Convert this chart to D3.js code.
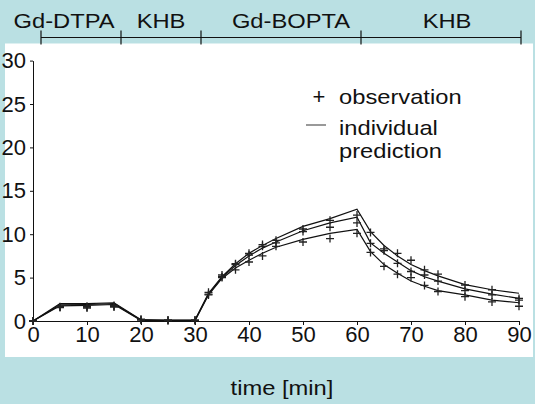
<!DOCTYPE html>
<html>
<head>
<meta charset="utf-8">
<script src="https://cdn.jsdelivr.net/npm/d3@7"></script>
<style>
  html, body { margin: 0; padding: 0; background: #bae0e3; }
  svg { display: block; }
  text { font-family: "Liberation Sans", Arial, Helvetica, sans-serif; fill: #111; }
</style>
</head>
<body>
<svg id="chart" width="535" height="404"></svg>
<script>
// Sampling times (min)
const times = [0, 5, 10, 15, 20, 25, 30, 32.5, 35, 37.5, 40, 42.5, 45, 50, 55, 60,
               62.5, 65, 67.5, 70, 72.5, 75, 80, 85, 90];

// Observed concentrations for three experiments
const obsA = [0, 1.65, 1.7, 1.8, 0.15, 0.1, 0.1, 3.3, 5.3, 6.6, 7.8, 8.8, 9.3, 10.6, 11.6, 12.2,
              10.2, 8.3, 7.8, 7.0, 5.9, 5.4, 4.15, 3.6, 2.6];
const obsB = [0, 1.55, 1.6, 1.7, 0.2, 0.1, 0.1, 3.1, 5.1, 6.5, 7.6, 8.6, 9.0, 10.3, 10.8, 11.3,
              8.95, 8.1, 6.65, 5.7, 5.3, 4.6, 3.5, 3.0, 2.4];
const obsC = [0, 1.6, 1.5, 1.6, 0.1, 0.05, 0.05, 3.0, 5.0, 5.9, 6.8, 7.5, 8.6, 9.1, 9.5, 10.1,
              7.9, 6.3, 5.4, 5.0, 4.1, 3.4, 2.8, 2.2, 1.7];

// Individual model predictions at the same times
const predA = [0, 2.0, 2.0, 2.1, 0.15, 0.1, 0.1, 3.2, 5.1, 6.6, 7.8, 8.7, 9.5, 10.9, 11.8, 12.87,
               10.3, 8.7, 7.5, 6.5, 5.8, 5.2, 4.2, 3.6, 3.2];
const predB = [0, 1.85, 1.9, 2.0, 0.1, 0.08, 0.08, 3.1, 5.0, 6.4, 7.5, 8.4, 9.1, 10.4, 11.3, 11.95,
               9.0, 7.8, 6.8, 5.8, 5.1, 4.6, 3.7, 3.1, 2.6];
const predC = [0, 1.75, 1.8, 1.9, 0.08, 0.05, 0.05, 3.0, 4.9, 6.1, 7.0, 7.8, 8.5, 9.4, 10.1, 10.56,
               8.0, 6.5, 5.5, 4.6, 4.0, 3.5, 3.0, 2.4, 2.1];

// Perfusion phases along the top
const phaseBounds = [0, 15, 30, 60, 90];
const phaseNames = ["Gd-DTPA", "KHB", "Gd-BOPTA", "KHB"];

const xTicks = [0, 10, 20, 30, 40, 50, 60, 70, 80, 90];
const yTicks = [0, 5, 10, 15, 20, 25, 30];
const legendLabels = ["observation", "individual", "prediction"];
const xTitle = "time [min]";

const svg = d3.select("#chart");

// words are set in a slightly wide face
const wide = (sel, px, py) => sel.attr("transform", `translate(${px},${py}) scale(1.13,1)`);

// background and white plotting panel
svg.append("rect").attr("width", 535).attr("height", 404).attr("fill", "#bae0e3");
svg.append("rect").attr("x", 5).attr("y", 43.5).attr("width", 528).attr("height", 313.5)
  .attr("fill", "#ffffff");

const x = d3.scaleLinear().domain([0, 90]).range([33, 519]);
const y = d3.scaleLinear().domain([0, 30]).range([321, 60.6]);

// axes
const xAxis = svg.append("g").attr("transform", `translate(0,${y(0)})`)
  .call(d3.axisBottom(x).tickValues(xTicks).tickSize(4).tickSizeOuter(0).tickPadding(1));
const yAxis = svg.append("g").attr("transform", `translate(${x(0)},0)`)
  .call(d3.axisLeft(y).tickValues(yTicks).tickSize(3).tickSizeOuter(0).tickPadding(4));
[xAxis, yAxis].forEach(g => {
  g.selectAll("path, line").attr("stroke", "#111").attr("stroke-width", 1);
  g.selectAll("text").attr("font-size", 22).attr("fill", "#111")
    .attr("font-family", "Liberation Sans, Arial, sans-serif");
});

// prediction lines
const line = d3.line().x((d, i) => x(times[i])).y(d => y(d));
[predA, predB, predC].forEach(p => {
  svg.append("path").datum(p).attr("d", line)
    .attr("fill", "none").attr("stroke", "#111").attr("stroke-width", 1.2);
});

// observation crosses
const h = 4;
[obsA, obsB, obsC].forEach(o => {
  const g = svg.append("g");
  g.selectAll("path").data(o).join("path")
    .attr("d", (d, i) => {
      const cx = x(times[i]), cy = y(d);
      return `M${cx - h},${cy}H${cx + h}M${cx},${cy - h}V${cy + h}`;
    })
    .attr("stroke", "#222").attr("stroke-width", 1.3).attr("fill", "none");
});

// phase bracket at the top
const xp = d3.scaleLinear().domain([0, 90]).range([41, 521]);
const phaseG = svg.append("g");
phaseG.append("line").attr("x1", xp(0)).attr("x2", xp(90)).attr("y1", 37.5).attr("y2", 37.5)
  .attr("stroke", "#111").attr("stroke-width", 1.2);
phaseG.selectAll("line.tk").data(phaseBounds).join("line").attr("class", "tk")
  .attr("x1", d => xp(d)).attr("x2", d => xp(d)).attr("y1", 30.5).attr("y2", 44.5)
  .attr("stroke", "#111").attr("stroke-width", 1.2);
const nudge = [-17, 0, 10, 6];
phaseG.selectAll("text").data(phaseNames).join("text")
  .each(function (d, i) {
    wide(d3.select(this),
      (xp(phaseBounds[i]) + xp(phaseBounds[i + 1])) / 2 + nudge[i], 27.5);
  })
  .attr("text-anchor", "middle").attr("font-size", 21)
  .text(d => d);

// legend
const lg = svg.append("g");
lg.append("text").attr("x", 319).attr("y", 104).attr("text-anchor", "middle")
  .attr("font-size", 22).text("+");
lg.append("line").attr("x1", 306).attr("x2", 326).attr("y1", 125).attr("y2", 125)
  .attr("stroke", "#555").attr("stroke-width", 1.2);
lg.selectAll("text.lab").data(legendLabels).join("text").attr("class", "lab")
  .each(function (d, i) { wide(d3.select(this), 339, [104, 135, 157.5][i]); })
  .attr("font-size", 21).text(d => d);

// x-axis title
wide(svg.append("text"), 282, 395).attr("text-anchor", "middle")
  .attr("font-size", 21).text(xTitle);
</script>
</body>
</html>
